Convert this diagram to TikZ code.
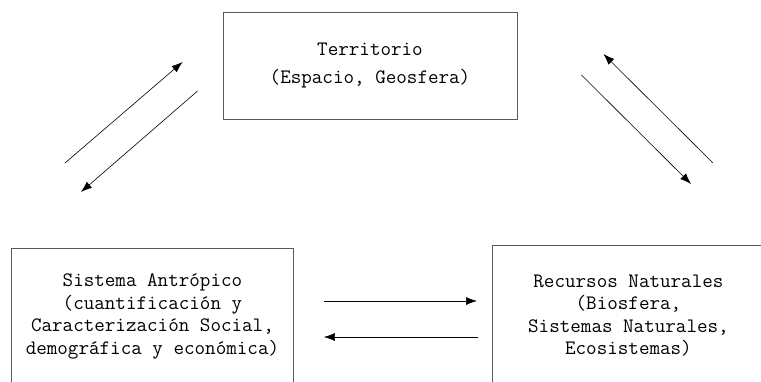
\documentclass[tikz,border=0pt]{standalone}
\usepackage{fontspec}
\usetikzlibrary{arrows.meta, positioning}

\begin{document}
\begin{tikzpicture}[
    x=1pt, y=-1pt,
    caja/.style={rectangle, draw=black!65, line width=0.9pt, align=center, inner sep=0pt,
                 font=\ttfamily\fontsize{20.5}{22.5}\selectfont},
    flecha/.style={-{Latex[length=11pt,width=8pt]}, line width=0.6pt}
]
    \useasboundingbox (0,0) rectangle (761,381);
    \clip (0,0) rectangle (761,381);

    % Boxes
    \node[caja, minimum width=294pt, minimum height=107pt,
          font=\ttfamily\fontsize{20.5}{28}\selectfont] (territorio) at (370,65.5)
          {Territorio\\(Espacio, Geosfera)};
    \node[caja, anchor=north west, minimum width=282pt, minimum height=136pt] (antropico) at (11,248)
          {Sistema Antrópico\\(cuantificación y\\Caracterización Social,\\demográfica y económica)};
    \node[caja, anchor=north west, minimum width=272pt, minimum height=140pt] (recursos) at (492,245)
          {Recursos Naturales\\(Biosfera,\\Sistemas Naturales,\\Ecosistemas)};

    % Left pair
    \draw[flecha] ([shift={(54,-85)}]antropico.north west) -- ([shift={(-40,-3.5)}]territorio.west);
    \draw[flecha] ([shift={(-25,25.5)}]territorio.west) -- ([shift={(70,-56)}]antropico.north west);

    % Right pair
    \draw[flecha] ([shift={(64,9.5)}]territorio.east) -- ([shift={(199,-61)}]recursos.north west);
    \draw[flecha] ([shift={(221,-82)}]recursos.north west) -- ([shift={(86,-11.5)}]territorio.east);

    % Bottom pair
    \draw[flecha] ([shift={(30,53)}]antropico.north east) -- ([shift={(-15,56)}]recursos.north west);
    \draw[flecha] ([shift={(-14,92)}]recursos.north west) -- ([shift={(30,89)}]antropico.north east);
\end{tikzpicture}
\end{document}
